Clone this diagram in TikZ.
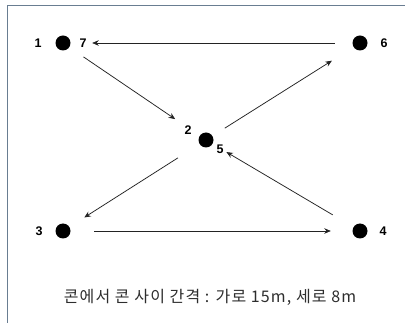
\documentclass[tikz,border=0pt]{standalone}
\usepackage{fontspec}
\setmainfont{Liberation Sans}
\newfontfamily\krfont[LetterSpace=7]{Noto Sans CJK KR}
\usetikzlibrary{arrows.meta}
\definecolor{framecol}{RGB}{105,125,145}
\definecolor{linecol}{RGB}{35,35,35}
\definecolor{captioncol}{RGB}{45,45,45}
\tikzset{
  cone/.style={circle,fill=black,minimum size=15pt,inner sep=0pt},
  num/.style={font=\bfseries\fontsize{12.5}{12.5}\selectfont,inner sep=0pt},
  arr/.style={draw=linecol,line width=0.75pt,-{Stealth[length=6.5pt,width=5.5pt]}},
  framebar/.style={draw=framecol,line width=1.2pt}
}
\begin{document}
\begin{tikzpicture}[x=1pt,y=-1pt]
\useasboundingbox (0,0) rectangle (405,323);
\fill[white] (0,0) rectangle (405,323);
\coordinate (ftl) at (7.5,5.5);
\coordinate (fbl) at (7.5,323);
\coordinate (ftr) at (405,5.5);
\draw[framebar] (fbl) -- (ftl) -- (ftr);
% cones
\node[cone] (d1) at (63,43) {};
\node[cone] (d6) at (360,43) {};
\node[cone] (d2) at (206,140) {};
\node[cone] (d3) at (63,231) {};
\node[cone] (d4) at (360,231) {};
% labels
\node[num] (l1) at (38,43) {1};
\node[num] (l7) at (83,43) {7};
\node[num] (l6) at (384,43) {6};
\node[num] (l2) at (188,130) {2};
\node[num] (l5) at (220,149) {5};
\node[num] (l3) at (39,231) {3};
\node[num] (l4) at (383,231) {4};
% arrows
\draw[arr,shorten <=17.5pt,shorten >=21.5pt] (d6) -- (d1);
\draw[arr,shorten <=17pt,shorten >=29.5pt] (d1) -- (d2);
\draw[arr,shorten <=14.5pt,shorten >=25.5pt] (d2) -- (d6);
\draw[arr,shorten <=25.5pt,shorten >=17.5pt] (d2) -- (d3);
\draw[arr,shorten <=23.5pt,shorten >=21.5pt] (d3) -- (d4);
\draw[arr,shorten <=24pt,shorten >=16pt] (d4) -- (d2);
% caption
\node[font=\krfont\fontsize{16}{17}\selectfont,text=captioncol,inner sep=0pt] (cap) at (210,297) {콘에서 콘 사이 간격 : 가로 15m, 세로 8m};
\end{tikzpicture}
\end{document}
